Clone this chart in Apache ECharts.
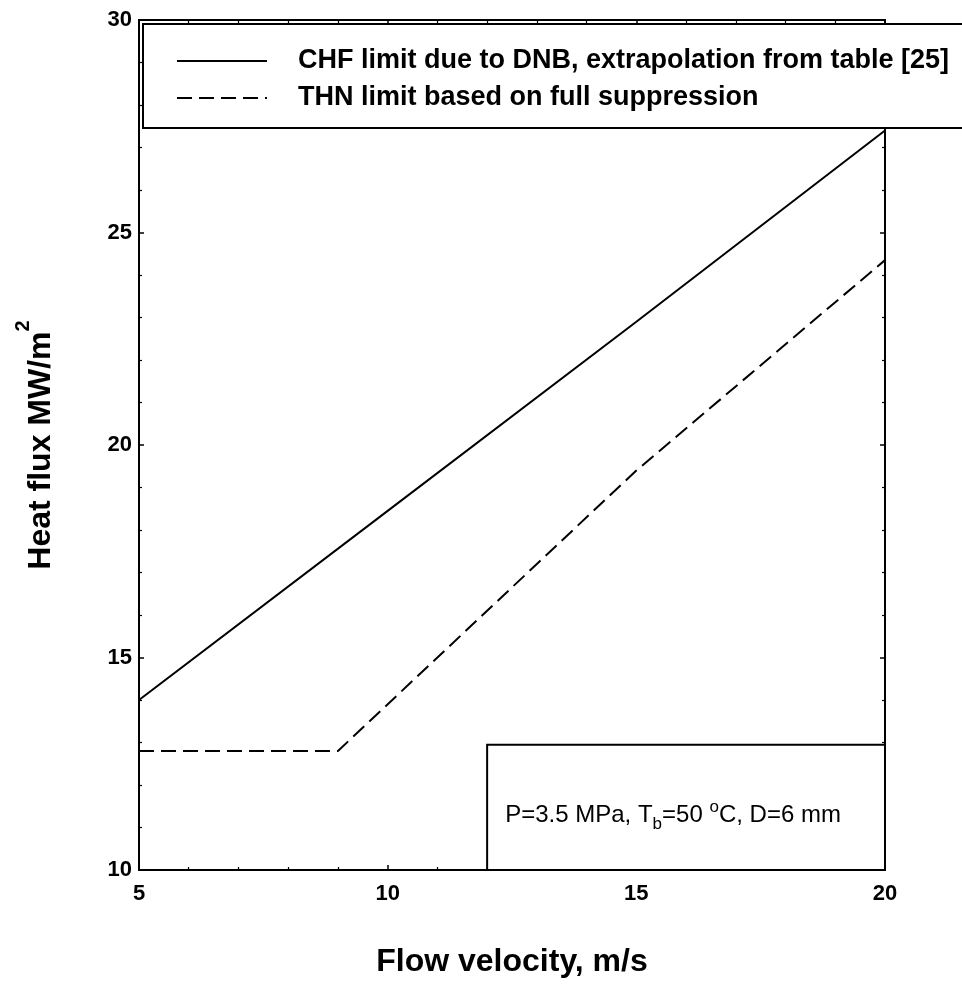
<!DOCTYPE html>
<html>
<head>
<meta charset="utf-8">
<script src="https://cdn.jsdelivr.net/npm/echarts@6/dist/echarts.min.js"></script>
<style>
  html, body { margin: 0; padding: 0; background: #fff; }
  #chart { width: 962px; height: 1002px; }
</style>
</head>
<body>
<div id="chart"></div>
<script>
// Flow velocity (m/s) and heat-flux limits (MW/m2)
const chfVelocity = [5, 10, 15, 20];
const chfFlux = [14.0, 18.45, 22.9, 27.4];
const thnVelocity = [5, 9, 15, 20];
const thnFlux = [12.8, 12.8, 19.4, 24.35];

const seriesNames = [
  'CHF limit due to DNB, extrapolation from table [25]',
  'THN limit based on full suppression'
];
const xTicks = [5, 10, 15, 20];
const yTicks = [10, 15, 20, 25, 30];

const FONT = 'Liberation Sans, Arial, Helvetica, sans-serif';

const pairs = (xs, ys) => xs.map((x, i) => [x, ys[i]]);

const chart = echarts.init(document.getElementById('chart'), null, { renderer: 'canvas' });

const axisCommon = {
  axisLine: { show: true, onZero: false, lineStyle: { color: '#000', width: 2 } },
  axisTick: { show: true, inside: true, length: 5, lineStyle: { color: '#000', width: 1.5 } },
  minorTick: { show: true, splitNumber: 5, length: 3, lineStyle: { color: '#000', width: 1.2 } },
  splitLine: { show: false }
};

chart.setOption({
  animation: false,
  backgroundColor: '#fff',
  grid: { left: 139, right: 77, top: 20, bottom: 132, show: false },
  xAxis: [
    Object.assign({
      type: 'value',
      min: xTicks[0], max: xTicks[xTicks.length - 1], interval: 5,
      position: 'bottom',
      name: 'Flow velocity, m/s',
      nameLocation: 'middle',
      nameGap: 76,
      nameTextStyle: { fontFamily: FONT, fontSize: 32, fontWeight: 'bold', color: '#000', verticalAlign: 'top' },
      axisLabel: { fontFamily: FONT, fontSize: 22, fontWeight: 'bold', color: '#000', margin: 13 }
    }, axisCommon),
    Object.assign({
      type: 'value',
      min: xTicks[0], max: xTicks[xTicks.length - 1], interval: 5,
      position: 'top',
      axisLabel: { show: false }
    }, axisCommon)
  ],
  yAxis: [
    Object.assign({
      type: 'value',
      min: yTicks[0], max: yTicks[yTicks.length - 1], interval: 5,
      position: 'left',
      name: '{a|Heat flux MW/m}{s|2}',
      nameLocation: 'middle',
      nameGap: 82,
      nameRotate: 90,
      nameTextStyle: {
        fontFamily: FONT, color: '#000',
        rich: {
          a: { fontFamily: FONT, fontSize: 32, fontWeight: 'bold', color: '#000', lineHeight: 44, verticalAlign: 'bottom' },
          s: { fontFamily: FONT, fontSize: 20, fontWeight: 'bold', color: '#000', lineHeight: 44, verticalAlign: 'top' }
        }
      },
      axisLabel: { fontFamily: FONT, fontSize: 22, fontWeight: 'bold', color: '#000', margin: 7 }
    }, axisCommon),
    Object.assign({
      type: 'value',
      min: yTicks[0], max: yTicks[yTicks.length - 1], interval: 5,
      position: 'right',
      axisLabel: { show: false }
    }, axisCommon)
  ],
  legend: {
    orient: 'vertical',
    left: 176,
    top: 47,
    padding: 0,
    itemWidth: 90,
    itemHeight: 14,
    itemGap: 9,
    z: 20,
    selectedMode: false,
    itemStyle: { opacity: 0 },
    textStyle: { fontFamily: FONT, fontSize: 27, fontWeight: 'bold', color: '#000', lineHeight: 28, padding: [0, 0, 0, 26] },
    data: seriesNames
  },
  graphic: [{
    type: 'rect',
    z: 10,
    shape: { x: 143, y: 24, width: 840, height: 104 },
    style: { fill: '#fff', stroke: '#000', lineWidth: 2 }
  }],
  series: [
    {
      name: seriesNames[0],
      type: 'line',
      symbol: 'none',
      data: pairs(chfVelocity, chfFlux),
      lineStyle: { color: '#000', width: 2, type: 'solid' },
      itemStyle: { color: '#000' },
      z: 3
    },
    {
      name: seriesNames[1],
      type: 'line',
      symbol: 'none',
      data: pairs(thnVelocity, thnFlux),
      lineStyle: { color: '#000', width: 2, type: [15, 7] },
      itemStyle: { color: '#000' },
      z: 3,
      markArea: {
        silent: true,
        itemStyle: { color: '#fff', borderColor: '#000', borderWidth: 2 },
        label: {
          show: true,
          position: 'inside',
          offset: [-13, 8],
          formatter: '{t|P=3.5 MPa, T}{sub|b}{t|=50 }{sup|o}{t|C, D=6 mm}',
          rich: {
            t: { fontFamily: FONT, fontSize: 24, color: '#000', lineHeight: 34, verticalAlign: 'middle' },
            sub: { fontFamily: FONT, fontSize: 17, color: '#000', lineHeight: 34, verticalAlign: 'bottom' },
            sup: { fontFamily: FONT, fontSize: 17, color: '#000', lineHeight: 34, verticalAlign: 'top' }
          }
        },
        data: [[{ xAxis: 12, yAxis: 10 }, { xAxis: 20, yAxis: 12.95 }]]
      }
    }
  ]
});
</script>
</body>
</html>
